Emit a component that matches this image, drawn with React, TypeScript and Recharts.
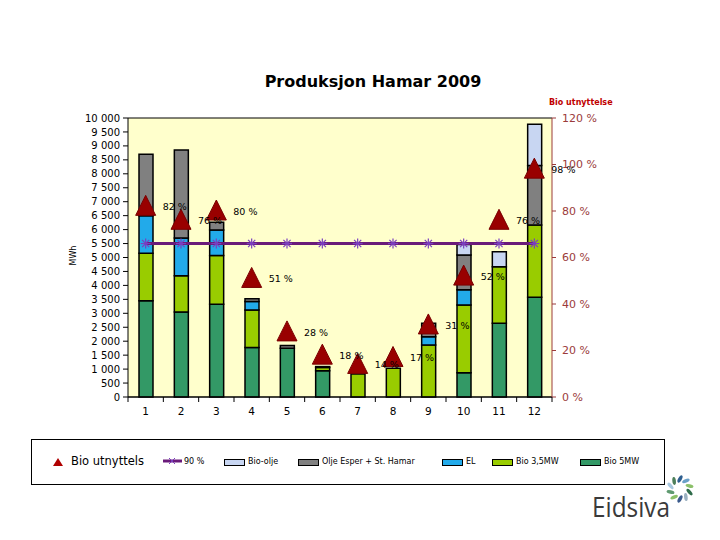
import React from 'react';
import {
  ComposedChart,
  Bar,
  Line,
  XAxis,
  YAxis,
  CartesianGrid,
} from 'recharts';

// Produksjon per måned (MWh)
const months = ['1', '2', '3', '4', '5', '6', '7', '8', '9', '10', '11', '12'];
const bio5mw = [3450, 3050, 3320, 1770, 1750, 940, 0, 0, 0, 870, 2640, 3575];
const bio35mw = [1700, 1300, 1750, 1350, 0, 120, 820, 1030, 1860, 2430, 2030, 2590];
const el = [1350, 1350, 920, 300, 0, 0, 0, 0, 300, 540, 0, 0];
const oljeEsper = [2200, 3150, 270, 100, 100, 30, 0, 0, 480, 1250, 0, 2135];
const bioOlje = [0, 0, 0, 0, 0, 0, 0, 0, 0, 380, 540, 1480];
// Bio utnyttelse (%), høyre akse
const utnyttelse = [82, 76, 80, 51, 28, 18, 14, 17, 31, 52, 76, 98];
// 90 %-linje (MWh)
const nittiProsent = [5500, 5500, 5500, 5500, 5500, 5500, 5500, 5500, 5500, 5500, 5500, 5500];

const mwhTicks = [
  0, 500, 1000, 1500, 2000, 2500, 3000, 3500, 4000, 4500, 5000,
  5500, 6000, 6500, 7000, 7500, 8000, 8500, 9000, 9500, 10000,
];
const pctTicks = [0, 20, 40, 60, 80, 100, 120];

const data = months.map((m, i) => ({
  month: m,
  bio5mw: bio5mw[i],
  bio35mw: bio35mw[i],
  el: el[i],
  olje: oljeEsper[i],
  bioOlje: bioOlje[i],
  utnyttelse: utnyttelse[i],
  nitti: nittiProsent[i],
}));

const FONT = '"DejaVu Sans", Verdana, sans-serif';
const RED = '#990000';
const AXIS_RED = '#9b3b3b';
const PURPLE = '#6a1b7a';
const STAR = '#7b3fbf';

const fmtMwh = (v: number) => (v >= 1000 ? `${Math.floor(v / 1000)} ${String(v % 1000).padStart(3, '0')}` : String(v));

const Triangle = (props: any) => {
  const { cx, cy, index } = props;
  if (cx == null || cy == null) return <g key={`t${index}`} />;
  return (
    <polygon
      key={`t${index}`}
      points={`${cx},${cy - 11} ${cx + 10},${cy + 9} ${cx - 10},${cy + 9}`}
      fill={RED}
      stroke="#7a0000"
      strokeWidth={1}
    />
  );
};

const Star = (props: any) => {
  const { cx, cy, index } = props;
  if (cx == null || cy == null) return <g key={`s${index}`} />;
  const r = 5;
  const d = 3.6;
  return (
    <g key={`s${index}`} stroke={STAR} strokeWidth={1.2}>
      <line x1={cx - r} y1={cy} x2={cx + r} y2={cy} />
      <line x1={cx} y1={cy - r} x2={cx} y2={cy + r} />
      <line x1={cx - d} y1={cy - d} x2={cx + d} y2={cy + d} />
      <line x1={cx - d} y1={cy + d} x2={cx + d} y2={cy - d} />
    </g>
  );
};

const PctLabel = (props: any) => {
  const { x, y, value, index } = props;
  return (
    <text key={`l${index}`} x={x + 17} y={y + 4} fontSize={9.5} fontFamily={FONT} fill="#000">
      {value} %
    </text>
  );
};

const XTick = (props: any) => {
  const { x, y, payload, index } = props;
  const half = 424 / 12 / 2;
  return (
    <g>
      {index === 0 && <line x1={x - half} y1={y - 8} x2={x - half} y2={y - 3} stroke="#000" />}
      <line x1={x + half} y1={y - 8} x2={x + half} y2={y - 3} stroke="#000" />
      <text x={x} y={y + 10} textAnchor="middle" fontSize={10.5} fontFamily={FONT} fill="#000">
        {payload.value}
      </text>
    </g>
  );
};

const legendText: React.CSSProperties = {
  position: 'absolute',
  fontFamily: FONT,
  fontSize: 8,
  color: '#000',
  top: 457,
  whiteSpace: 'nowrap',
};

const swatch = (left: number, color: string): React.CSSProperties => ({
  position: 'absolute',
  left,
  top: 459,
  width: 19,
  height: 5,
  background: color,
  border: '1.5px solid #000',
});

const petals = [
  { a: -90, c: '#2f5f8f' },
  { a: -54, c: '#6aa0c8' },
  { a: -18, c: '#8cc06a' },
  { a: 18, c: '#2e6b4a' },
  { a: 54, c: '#9ab0c0' },
  { a: 90, c: '#3a5a8c' },
  { a: 126, c: '#8cc06a' },
  { a: 162, c: '#5f9a70' },
  { a: 198, c: '#a8c8e0' },
  { a: 234, c: '#4d7f5a' },
];

export default function App() {
  return (
    <div style={{ position: 'relative', width: 720, height: 540, margin: -8, background: '#fff', overflow: 'hidden' }}>
      <div
        style={{
          position: 'absolute',
          left: 0,
          width: 746,
          top: 72,
          textAlign: 'center',
          fontFamily: FONT,
          fontWeight: 'bold',
          fontSize: 16,
        }}
      >
        Produksjon Hamar 2009
      </div>
      <div style={{ position: 'absolute', left: 549, top: 98, fontFamily: FONT, fontWeight: 'bold', fontSize: 8, color: '#c00000' }}>
        Bio utnyttelse
      </div>
      <div
        style={{
          position: 'absolute',
          left: 64,
          top: 251,
          fontFamily: FONT,
          fontSize: 8,
          transform: 'rotate(-90deg)',
        }}
      >
        MWh
      </div>

      <div style={{ position: 'absolute', left: 0, top: 0 }}>
        <ComposedChart
          width={720}
          height={540}
          data={data}
          margin={{ top: 118, right: 0, bottom: 113, left: 0 }}
          barSize={14}
        >
          <CartesianGrid vertical={false} stroke="#000" strokeWidth={1} fill="#ffffcc" fillOpacity={1} />
          <XAxis
            dataKey="month"
            height={30}
            tickSize={5}
            tickMargin={3}
            tickLine={false}
            tick={<XTick />}
            axisLine={{ stroke: '#000' }}
            interval={0}
          />
          <YAxis
            yAxisId="mwh"
            width={128}
            domain={[0, 10000]}
            ticks={mwhTicks}
            interval={0}
            tickFormatter={fmtMwh}
            tick={{ fontSize: 10, fontFamily: FONT, fill: '#000' }}
            tickSize={5}
            tickMargin={3}
            axisLine={{ stroke: '#000' }}
            tickLine={{ stroke: '#000' }}
          />
          <YAxis
            yAxisId="pct"
            orientation="right"
            width={168}
            domain={[0, 120]}
            ticks={pctTicks}
            interval={0}
            tickFormatter={(v: number) => `${v} %`}
            tick={{ fontSize: 11, fontFamily: FONT, fill: AXIS_RED, textAnchor: 'start' }}
            tickSize={4}
            tickMargin={6}
            axisLine={{ stroke: AXIS_RED }}
            tickLine={{ stroke: AXIS_RED }}
          />
          <Bar yAxisId="mwh" dataKey="bio5mw" name="Bio 5MW" stackId="a" fill="#339966" stroke="#000" strokeWidth={1.5} isAnimationActive={false} />
          <Bar yAxisId="mwh" dataKey="bio35mw" name="Bio 3,5MW" stackId="a" fill="#99cc00" stroke="#000" strokeWidth={1.5} isAnimationActive={false} />
          <Bar yAxisId="mwh" dataKey="el" name="EL" stackId="a" fill="#22aaea" stroke="#000" strokeWidth={1.5} isAnimationActive={false} />
          <Bar yAxisId="mwh" dataKey="olje" name="Olje Esper + St. Hamar" stackId="a" fill="#808080" stroke="#000" strokeWidth={1.5} isAnimationActive={false} />
          <Bar yAxisId="mwh" dataKey="bioOlje" name="Bio-olje" stackId="a" fill="#c8d6f2" stroke="#000" strokeWidth={1.5} isAnimationActive={false} />
          <Line
            yAxisId="mwh"
            dataKey="nitti"
            name="90 %"
            stroke={PURPLE}
            strokeWidth={3}
            dot={(p: any) => <Star {...p} />}
            activeDot={false}
            isAnimationActive={false}
          />
          <Line
            yAxisId="pct"
            dataKey="utnyttelse"
            name="Bio utnyttels"
            stroke="none"
            dot={(p: any) => <Triangle {...p} />}
            activeDot={false}
            label={(p: any) => <PctLabel {...p} />}
            isAnimationActive={false}
          />
        </ComposedChart>
      </div>

      {/* legend */}
      <div
        style={{
          position: 'absolute',
          left: 31,
          top: 439,
          width: 634,
          height: 46,
          border: '1.5px solid #000',
          boxSizing: 'border-box',
        }}
      />
      <svg style={{ position: 'absolute', left: 52, top: 457 }} width={12} height={10}>
        <polygon points="6,1 11,9 1,9" fill="#b00000" />
      </svg>
      <div style={{ ...legendText, left: 71, top: 454, fontSize: 11.5 }}>Bio utnyttels</div>
      <svg style={{ position: 'absolute', left: 163, top: 456 }} width={19} height={10}>
        <line x1={0} y1={5} x2={19} y2={5} stroke={PURPLE} strokeWidth={3} />
        <line x1={6} y1={2} x2={12} y2={8} stroke={STAR} />
        <line x1={6} y1={8} x2={12} y2={2} stroke={STAR} />
      </svg>
      <div style={{ ...legendText, left: 184 }}>90 %</div>
      <div style={swatch(224, '#c8d6f2')} />
      <div style={{ ...legendText, left: 248 }}>Bio-olje</div>
      <div style={swatch(298, '#808080')} />
      <div style={{ ...legendText, left: 322 }}>Olje Esper + St. Hamar</div>
      <div style={swatch(442, '#22aaea')} />
      <div style={{ ...legendText, left: 466 }}>EL</div>
      <div style={swatch(492, '#99cc00')} />
      <div style={{ ...legendText, left: 516 }}>Bio 3,5MW</div>
      <div style={swatch(580, '#339966')} />
      <div style={{ ...legendText, left: 604 }}>Bio 5MW</div>

      {/* logo */}
      <svg style={{ position: 'absolute', left: 580, top: 470 }} width={140} height={60}>
        <text
          x={12}
          y={47}
          fontFamily="'Open Sans', 'DejaVu Sans', sans-serif"
          fontSize={28}
          fill="#3a3a3a"
          textLength={78}
          lengthAdjust="spacingAndGlyphs"
        >
          Eidsiva
        </text>
        {petals.map((p, i) => {
          const cx = 100;
          const cy = 19;
          const rad = (p.a * Math.PI) / 180;
          const px = cx + Math.cos(rad) * 10;
          const py = cy + Math.sin(rad) * 10;
          return (
            <ellipse
              key={i}
              cx={px}
              cy={py}
              rx={4}
              ry={1.8}
              fill={p.c}
              transform={`rotate(${p.a + 30} ${px} ${py})`}
            />
          );
        })}
      </svg>
    </div>
  );
}
